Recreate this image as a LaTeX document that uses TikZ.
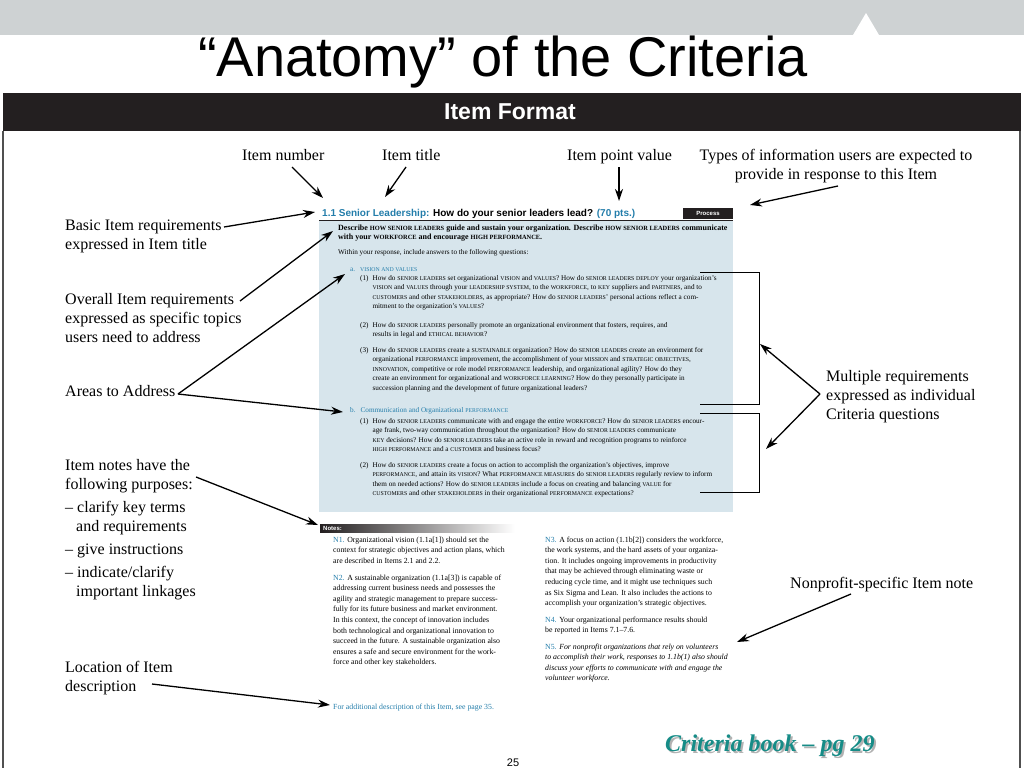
\documentclass[tikz,border=0pt]{standalone}
\usepackage{fontspec}
\setmainfont{Liberation Serif}
\newfontfamily\arialfont{Liberation Sans}
\usetikzlibrary{arrows.meta}

\definecolor{bandgrey}{RGB}{206,210,211}
\definecolor{barblack}{RGB}{35,31,32}
\definecolor{boxblue}{RGB}{215,229,236}
\definecolor{docblue}{RGB}{35,125,170}
\definecolor{frameline}{RGB}{80,80,80}
\definecolor{bookteal}{RGB}{22,140,135}

\newcommand{\lines}[1]{\begin{tabular}[t]{@{}l@{}}#1\end{tabular}}
\newcommand{\clines}[1]{\begin{tabular}[t]{@{}c@{}}#1\end{tabular}}
\newcommand{\qlines}[2]{\begin{tabular}[t]{@{}l@{\hspace{4pt}}l@{}}#1&#2\end{tabular}}
\newcommand{\glsize}{5.8}
\newcommand{\gl}[1]{{\fontsize{\glsize}{6}\selectfont\MakeUppercase{#1}}}
\newcommand{\docsize}{\fontsize{7.2}{9.6}\selectfont}
\newcommand{\introsize}{\renewcommand{\glsize}{6.4}\fontsize{8}{9.6}\selectfont}
\newcommand{\nb}[1]{\textcolor{docblue}{#1}}

\tikzset{
  callout/.style={line width=1.3pt,-{Stealth[length=12pt,width=8pt]}},
  lbl/.style={anchor=base west,inner sep=0pt,font=\fontsize{16}{19}\selectfont},
  doc/.style={anchor=base west,inner sep=0pt,font=\docsize},
  note/.style={anchor=base west,inner sep=0pt,font=\fontsize{7.8}{10.6}\selectfont},
  bracket/.style={line width=1pt},
}

\begin{document}
\begin{tikzpicture}[x=1pt,y=1pt,yscale=-1]
\useasboundingbox (0,0) rectangle (1024,768);

% slide band and title
\fill[bandgrey] (0,0) rectangle (1024,35);
\fill[white] (853,35) -- (866,13) -- (879,35) -- cycle;
\node[anchor=base,font=\arialfont\fontsize{56}{60}\selectfont] (title) at (503,77) {“Anatomy” of the Criteria};

% Item Format bar and frame
\fill[barblack] (3,93) rectangle (1021,131);
\node[text=white,font=\arialfont\bfseries\fontsize{23}{25}\selectfont] (fmt) at (510,112) {Item Format};
\draw[frameline,line width=1.5pt] (3,131) -- (3,768) (1020,131) -- (1020,768);

% item page
\fill[boxblue] (319,220) rectangle (733,512);
\draw[barblack,line width=1pt] (319,220) -- (733,220);
\fill[barblack] (683,208) rectangle (733,219);
\node[text=white,font=\arialfont\bfseries\fontsize{6}{7}\selectfont] (process) at (708,213.5) {Process};
\node[doc,font=\arialfont\bfseries\fontsize{10}{11}\selectfont] (itemhead) at (322,216) {\nb{1.1 Senior Leadership:} How do your senior leaders lead? \nb{(70 pts.)}};

\node[doc,font=\introsize\bfseries] (intro) at (338,230) {\lines{Describe \gl{how senior leaders} guide and sustain your organization. Describe \gl{how senior leaders} communicate\\with your \gl{workforce} and encourage \gl{high performance}.}};
\node[doc] (within) at (338,254) {Within your response, include answers to the following questions:};

\node[doc,text=docblue] (areaa) at (350,271) {a.\hspace{5pt}\gl{Vision and Values}};
\node[doc] (qa1) at (360,280) {\qlines{(1)}{How do \gl{senior leaders} set organizational \gl{vision} and \gl{values}? How do \gl{senior leaders} \gl{deploy} your organization’s\\
 & \gl{vision} and \gl{values} through your \gl{leadership system}, to the \gl{workforce}, to \gl{key} suppliers and \gl{partners}, and to\\
 & \gl{customers} and other \gl{stakeholders}, as appropriate? How do \gl{senior leaders}’ personal actions reflect a com-\\
 & mitment to the organization’s \gl{values}?}};
\node[doc] (qa2) at (360,327) {\qlines{(2)}{How do \gl{senior leaders} personally promote an organizational environment that fosters, requires, and\\
 & results in legal and \gl{ethical behavior}?}};
\node[doc] (qa3) at (360,352) {\qlines{(3)}{How do \gl{senior leaders} create a \gl{sustainable} organization? How do \gl{senior leaders} create an environment for\\
 & organizational \gl{performance} improvement, the accomplishment of your \gl{mission} and \gl{strategic objectives},\\
 & \gl{innovation}, competitive or role model \gl{performance} leadership, and organizational agility? How do they\\
 & create an environment for organizational and \gl{workforce learning}? How do they personally participate in\\
 & succession planning and the development of future organizational leaders?}};

\node[doc,text=docblue] (areab) at (350,412) {b.\hspace{5pt}Communication and Organizational \gl{Performance}};
\node[doc] (qb1) at (360,423) {\qlines{(1)}{How do \gl{senior leaders} communicate with and engage the entire \gl{workforce}? How do \gl{senior leaders} encour-\\
 & age frank, two-way communication throughout the organization? How do \gl{senior leaders} communicate\\
 & \gl{key} decisions? How do \gl{senior leaders} take an active role in reward and recognition programs to reinforce\\
 & \gl{high performance} and a \gl{customer} and business focus?}};
\node[doc] (qb2) at (360,467) {\qlines{(2)}{How do \gl{senior leaders} create a focus on action to accomplish the organization’s objectives, improve\\
 & \gl{performance}, and attain its \gl{vision}? What \gl{performance measures} do \gl{senior leaders} regularly review to inform\\
 & them on needed actions? How do \gl{senior leaders} include a focus on creating and balancing \gl{value} for\\
 & \gl{customers} and other \gl{stakeholders} in their organizational \gl{performance} expectations?}};

% brackets
\draw[bracket] (700,272) -- (759,272) -- (759,404) -- (700,404);
\draw[bracket] (700,413) -- (759,413) -- (759,492) -- (700,492);

% notes
\shade[left color=barblack,right color=white] (320,524) rectangle (515,532);
\node[anchor=base west,inner sep=0pt,text=white,font=\arialfont\bfseries\fontsize{6}{7}\selectfont] (notesbar) at (323,530.5) {Notes:};
\node[note] (n1) at (333,542) {\lines{\nb{N1.} Organizational vision (1.1a[1]) should set the\\context for strategic objectives and action plans, which\\are described in Items 2.1 and 2.2.}};
\node[note] (n2) at (333,580) {\lines{\nb{N2.} A sustainable organization (1.1a[3]) is capable of\\addressing current business needs and possesses the\\agility and strategic management to prepare success-\\fully for its future business and market environment.\\In this context, the concept of innovation includes\\both technological and organizational innovation to\\succeed in the future. A sustainable organization also\\ensures a safe and secure environment for the work-\\force and other key stakeholders.}};
\node[note] (n3) at (545,542) {\lines{\nb{N3.} A focus on action (1.1b[2]) considers the workforce,\\the work systems, and the hard assets of your organiza-\\tion. It includes ongoing improvements in productivity\\that may be achieved through eliminating waste or\\reducing cycle time, and it might use techniques such\\as Six Sigma and Lean. It also includes the actions to\\accomplish your organization’s strategic objectives.}};
\node[note] (n4) at (545,622) {\lines{\nb{N4.} Your organizational performance results should\\be reported in Items 7.1–7.6.}};
\node[note] (n5) at (545,649) {\lines{\nb{N5.} \itshape For nonprofit organizations that rely on volunteers\\\itshape to accomplish their work, responses to 1.1b(1) also should\\\itshape discuss your efforts to communicate with and engage the\\\itshape volunteer workforce.}};
\node[note,text=docblue] (addl) at (333,709) {For additional description of this Item, see page 35.};

% callout labels
\node[lbl] (numlbl) at (242,160) {Item number};
\node[lbl] (titlelbl) at (382,160) {Item title};
\node[lbl] (ptslbl) at (567,160) {Item point value};
\node[lbl,anchor=base] (typeslbl) at (836,160) {\clines{Types of information users are expected to\\provide in response to this Item}};
\node[lbl] (basiclbl) at (65,230) {\lines{Basic Item requirements\\expressed in Item title}};
\node[lbl] (overalllbl) at (65,304) {\lines{Overall Item requirements\\expressed as specific topics\\users need to address}};
\node[lbl] (areaslbl) at (65,396) {Areas to Address};
\node[lbl] (noteslbl) at (65,470) {\lines{Item notes have the\\following purposes:\\[4pt]– clarify key terms\\\hspace{11pt}and requirements\\[4pt]– give instructions\\[4pt]– indicate/clarify\\\hspace{11pt}important linkages}};
\node[lbl] (loclbl) at (65,672) {\lines{Location of Item\\description}};
\node[lbl] (multlbl) at (826,381) {\lines{Multiple requirements\\expressed as individual\\Criteria questions}};
\node[lbl] (nonproflbl) at (790,588) {Nonprofit-specific Item note};

% arrow ends
\coordinate (numfoot) at (292,167);   \coordinate (numtip) at (323,198);
\coordinate (titlefoot) at (406,167); \coordinate (titletip) at (385,197);
\coordinate (ptsfoot) at (619,167);   \coordinate (ptstip) at (619,201);
\coordinate (typesfoot) at (838,186); \coordinate (typestip) at (750,205);
\coordinate (basicfoot) at (224,227); \coordinate (basictip) at (315,212);
\coordinate (overallfoot) at (240,301); \coordinate (overalltip) at (333,231);
\coordinate (areasfoot) at (178,394); \coordinate (areaatip) at (345,274);
\coordinate (areabtip) at (343,412);
\coordinate (notesfoot) at (196,477); \coordinate (notestip) at (318,525);
\coordinate (locfoot) at (152,684);   \coordinate (loctip) at (330,705);
\coordinate (multfoot) at (820,394);  \coordinate (multtipa) at (760,344);
\coordinate (multtipb) at (766,449);
\coordinate (nonproffoot) at (851,594); \coordinate (nonproftip) at (737,642);

\draw[callout] (numfoot) -- (numtip);
\draw[callout] (titlefoot) -- (titletip);
\draw[callout] (ptsfoot) -- (ptstip);
\draw[callout] (typesfoot) -- (typestip);
\draw[callout] (basicfoot) -- (basictip);
\draw[callout] (overallfoot) -- (overalltip);
\draw[callout] (areasfoot) -- (areaatip);
\draw[callout] (areasfoot) -- (areabtip);
\draw[callout] (notesfoot) -- (notestip);
\draw[callout] (locfoot) -- (loctip);
\draw[callout] (multfoot) -- (multtipa);
\draw[callout] (multfoot) -- (multtipb);
\draw[callout] (nonproffoot) -- (nonproftip);

% book reference and page number
\node[anchor=base west,inner sep=0pt,text=black!30,font=\bfseries\itshape\fontsize{24}{26}\selectfont] (bookshadow) at (667,753) {Criteria book – pg 29};
\node[anchor=base west,inner sep=0pt,text=bookteal,font=\bfseries\itshape\fontsize{24}{26}\selectfont] (booklbl) at (665,751) {Criteria book – pg 29};
\node[anchor=base,font=\arialfont\fontsize{11}{12}\selectfont] (pagenum) at (513,766) {25};
\end{tikzpicture}
\end{document}
